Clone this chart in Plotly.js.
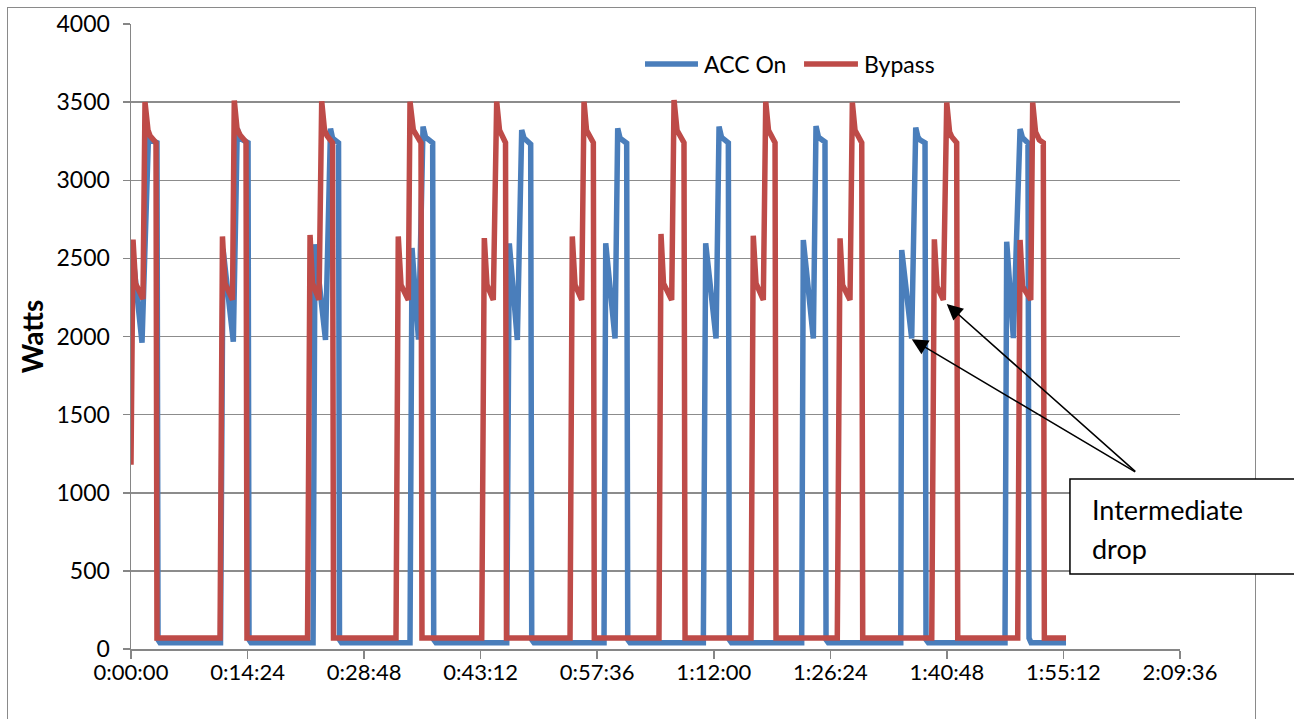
<!DOCTYPE html>
<html>
<head>
<meta charset="utf-8">
<script src="https://cdn.plot.ly/plotly-3.0.1.min.js"></script>
<style>
  html, body { margin: 0; padding: 0; background: #ffffff; }
  #wrap { position: relative; width: 1294px; height: 719px; overflow: hidden; }
  #frame { position: absolute; left: 7px; top: 7px; width: 1247px; height: 730px;
           border: 1.5px solid #8a8a8a; z-index: 0; }
  #chart { position: absolute; left: 0; top: 0; width: 1294px; height: 719px; z-index: 1; }
</style>
</head>
<body>
<div id="wrap">
  <div id="frame"></div>
  <div id="chart"></div>
</div>
<script>
// Time in minutes from start, power in watts
const accOnTime = [
  0, 0.19, 1.36, 2.16, 2.47, 3.21, 3.34, 3.58, 11.06,
  11.37, 12.64, 13.13, 13.41, 13.96, 14.46, 14.58, 14.83, 22.49,
  22.73, 24.03, 24.65, 24.90, 25.20, 25.64, 25.76, 26.01, 34.47,
  34.72, 35.52, 36.08, 36.39, 36.73, 37.27, 37.40, 37.68, 46.42,
  46.74, 47.73, 48.27, 48.55, 49.09, 49.38, 49.51, 49.79, 58.44,
  58.65, 59.80, 60.13, 60.42, 60.91, 61.24, 61.37, 61.65, 70.71,
  71.00, 72.28, 72.65, 72.96, 73.51, 73.80, 73.92, 74.19, 82.86,
  83.06, 84.30, 84.63, 84.94, 85.37, 85.74, 85.87, 86.15, 95.10,
  95.22, 96.45, 96.95, 97.23, 97.48, 98.10, 98.22, 98.51, 107.98,
  108.19, 109.01, 109.84, 110.12, 110.58, 110.82, 110.95, 111.20, 115.52
];
const accOnWatts = [
  2450, 2540, 1960, 3280, 3255, 3240, 60, 40, 40,
  2560, 1967, 3332, 3270, 3250, 3240, 60, 40, 40,
  2590, 1978, 3330, 3270, 3258, 3240, 60, 40, 40,
  2566, 1980, 3343, 3275, 3258, 3240, 60, 40, 40,
  2596, 1978, 3322, 3270, 3237, 3230, 60, 40, 40,
  2596, 1988, 3332, 3270, 3250, 3237, 60, 40, 40,
  2596, 1988, 3343, 3275, 3258, 3240, 60, 40, 40,
  2617, 1988, 3347, 3275, 3255, 3245, 60, 40, 40,
  2554, 1988, 3337, 3275, 3258, 3240, 60, 40, 40,
  2607, 1990, 3328, 3275, 3250, 3240, 70, 40, 40
];

const bypassTime = [
  0, 0.25, 0.56, 1.48, 1.73, 2.10, 2.35, 3.09, 3.21,
  11.00, 11.30, 11.61, 12.54, 12.76, 13.10, 13.47, 14.21, 14.33,
  21.81, 22.12, 22.42, 23.23, 23.56, 23.91, 24.22, 24.90, 25.02,
  32.74, 33.02, 33.36, 34.26, 34.47, 34.88, 35.50, 35.83, 35.95,
  43.33, 43.65, 43.98, 44.76, 45.18, 45.53, 46.00, 46.27, 46.39,
  54.24, 54.52, 54.86, 55.68, 55.97, 56.28, 56.62, 57.12, 57.24,
  65.23, 65.48, 65.79, 66.80, 67.09, 67.46, 67.83, 68.32, 68.45,
  76.60, 76.88, 77.22, 78.12, 78.42, 78.76, 79.16, 79.57, 79.69,
  87.26, 87.60, 87.91, 88.83, 89.12, 89.45, 89.86, 90.28, 90.40,
  98.93, 99.25, 99.58, 100.36, 100.78, 101.13, 101.39, 102.01, 102.14,
  109.55, 109.84, 110.15, 111.16, 111.40, 111.75, 112.22, 112.71, 112.84, 115.52
];
const bypassWatts = [
  1180, 2620, 2340, 2240, 3500, 3320, 3285, 3240, 70,
  70, 2640, 2340, 2235, 3510, 3330, 3290, 3245, 70,
  70, 2650, 2340, 2235, 3505, 3320, 3285, 3240, 70,
  70, 2640, 2330, 2234, 3503, 3322, 3258, 3240, 70,
  70, 2630, 2330, 2234, 3503, 3320, 3258, 3240, 70,
  70, 2640, 2330, 2234, 3503, 3320, 3280, 3240, 70,
  70, 2656, 2340, 2234, 3514, 3320, 3280, 3240, 70,
  70, 2645, 2340, 2234, 3503, 3320, 3280, 3240, 70,
  70, 2628, 2330, 2234, 3497, 3320, 3280, 3240, 70,
  70, 2622, 2320, 2234, 3497, 3310, 3279, 3240, 70,
  70, 2618, 2320, 2234, 3497, 3310, 3258, 3240, 70, 70
];

const seriesNames = ['ACC On', 'Bypass'];
const seriesColors = ['#4a7ebb', '#be4b48'];
const xTickValues = [0, 14.4, 28.8, 43.2, 57.6, 72.0, 86.4, 100.8, 115.2, 129.6];
const xTickLabels = ['0:00:00', '0:14:24', '0:28:48', '0:43:12', '0:57:36',
                     '1:12:00', '1:26:24', '1:40:48', '1:55:12', '2:09:36'];
const yTitle = 'Watts';
const calloutText = ['Intermediate', 'drop'];
// arrow targets: the intermediate drops (time in minutes, watts)
const calloutTargets = [[96.46, 1982], [100.78, 2208]];
const calloutTail = [124.25, 1128];

const FONT = 'Lato, "Open Sans", sans-serif';
const LINE_W = 5.5;

const traces = [
  { x: accOnTime, y: accOnWatts, name: seriesNames[0], type: 'scatter', mode: 'lines',
    line: { color: seriesColors[0], width: LINE_W }, showlegend: false },
  { x: bypassTime, y: bypassWatts, name: seriesNames[1], type: 'scatter', mode: 'lines',
    line: { color: seriesColors[1], width: LINE_W }, showlegend: false }
];

const annotations = calloutTargets.map(t => ({
  x: t[0], y: t[1], xref: 'x', yref: 'y',
  ax: calloutTail[0], ay: calloutTail[1], axref: 'x', ayref: 'y',
  text: '', showarrow: true, arrowhead: 2, arrowsize: 2.0, arrowwidth: 1.6,
  arrowcolor: '#000000', standoff: 0, startstandoff: 0
}));
annotations.push(
  { xref: 'paper', yref: 'paper', x: 0.9142, y: 0.2240, xanchor: 'left', yanchor: 'middle',
    text: calloutText[0], showarrow: false, font: { family: FONT, size: 27, color: '#000' } },
  { xref: 'paper', yref: 'paper', x: 0.9142, y: 0.1610, xanchor: 'left', yanchor: 'middle',
    text: calloutText[1], showarrow: false, font: { family: FONT, size: 27, color: '#000' } }
);

// custom legend (line sample + label), placed in paper space
const legendItems = [
  { x0: 0.490, x1: 0.5405, tx: 0.5445 },
  { x0: 0.6416, x1: 0.6930, tx: 0.6965 }
];
const legendY = 0.936;
const shapes = [
  { type: 'rect', xref: 'paper', yref: 'paper', x0: 0.8951, x1: 1.1144, y0: 0.12, y1: 0.272,
    line: { color: '#000000', width: 1.5 }, fillcolor: '#ffffff', layer: 'above' }
];
legendItems.forEach((it, i) => {
  shapes.push({ type: 'line', xref: 'paper', yref: 'paper', x0: it.x0, x1: it.x1, y0: legendY, y1: legendY,
                line: { color: seriesColors[i], width: LINE_W } });
  annotations.push({ xref: 'paper', yref: 'paper', x: it.tx, y: legendY, xanchor: 'left', yanchor: 'middle',
                     text: seriesNames[i], showarrow: false, font: { family: FONT, size: 23, color: '#000' } });
});

const layout = {
  width: 1294, height: 719,
  margin: { l: 131, r: 114, t: 24, b: 70, pad: 0 },
  paper_bgcolor: 'rgba(0,0,0,0)',
  plot_bgcolor: '#ffffff',
  font: { family: FONT, size: 23, color: '#000000' },
  showlegend: false,
  xaxis: {
    range: [0, 129.6], tickmode: 'array', tickvals: xTickValues, ticktext: xTickLabels,
    showgrid: false, zeroline: false, showline: true, linecolor: '#868686', linewidth: 1.5,
    ticks: 'outside', ticklen: 8, tickcolor: '#868686', tickwidth: 1.5,
    ticklabelstandoff: -5,
    tickfont: { family: FONT, size: 22, color: '#000' }, fixedrange: true
  },
  yaxis: {
    range: [0, 4000], dtick: 500, tick0: 0,
    showgrid: true, gridcolor: '#8c8c8c', gridwidth: 1.5, zeroline: false,
    showline: true, linecolor: '#868686', linewidth: 1.5,
    ticks: 'outside', ticklen: 7, tickcolor: '#868686', tickwidth: 1.5,
    ticklabelstandoff: 8,
    tickfont: { family: FONT, size: 23, color: '#000' },
    title: { text: '<b>' + yTitle + '</b>', font: { family: FONT, size: 28, color: '#000' }, standoff: 4 },
    fixedrange: true
  },
  shapes: shapes,
  annotations: annotations
};

Plotly.newPlot('chart', traces, layout, { displayModeBar: false, staticPlot: true });
</script>
</body>
</html>
